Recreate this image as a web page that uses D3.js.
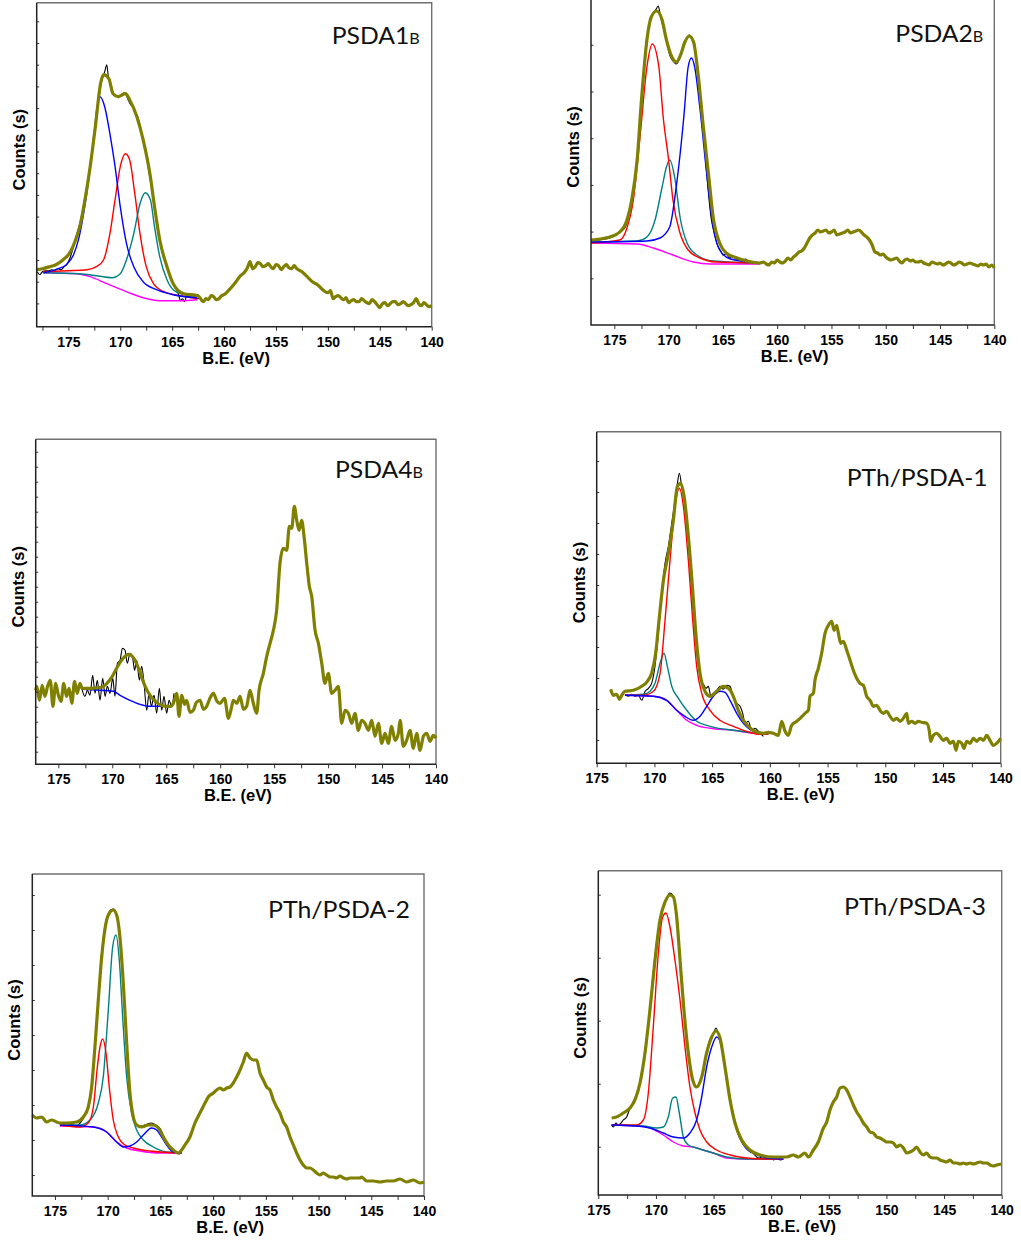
<!DOCTYPE html>
<html><head><meta charset="utf-8">
<script src="https://cdn.jsdelivr.net/npm/d3@7"></script>
<style>body{margin:0;background:#fff}svg{display:block}</style>
</head><body>
<svg id="c" width="1021" height="1245"></svg>
<script>
// ---------- tick values / labels ----------
const xMajorTicks = [175,170,165,160,155,150,145,140];
const xMinorTicks = [177.5,172.5,167.5,162.5,157.5,152.5,147.5,142.5];
const titles = [["PSDA1","B"],["PSDA2","B"],["PSDA4","B"],["PTh/PSDA-1",""],["PTh/PSDA-2",""],["PTh/PSDA-3",""]];
const xTitle = "B.E. (eV)";
const yTitle = "Counts (s)";

// ---------- PSDA1B ----------
const p1Olive = [[178.05,57],[177.5,58],[176.8,60],[176.2,62],[175.5,67],[175.0,72],[174.7,77],[174.3,87],[173.9,100],[173.4,127],[172.9,160],[172.4,200],[171.9,243],[171.6,252],[171.1,248],[170.7,233],[170.2,230],[169.5,233],[169.1,227],[168.4,210],[167.8,187],[167.1,150],[166.7,120],[166.2,87],[165.5,60],[164.9,43],[163.9,33],[162.5,31],
[162.0,25],[161.75,28],[161.5,27],[161.25,31],[161.0,30],[160.75,27],[160.5,28],[160.25,31],[160.0,32],[159.5,37],[159.0,43],[158.5,50],[158.0,55],[157.75,59],[157.5,65],[157.25,58],[157.0,60],[156.75,64],[156.5,63],[156.25,60],[156.0,61],[155.75,63],[155.5,60],[155.25,58],[155.0,62],[154.75,61],[154.5,57],[154.25,60],[154.0,62],[153.75,59],[153.5,58],[153.25,61],[153.0,58],[152.5,55],[152.0,50],[151.5,45],[151.0,42],[150.5,37],[150.0,34],[149.75,36],[149.5,28],[149.25,30],[149.0,31],[148.75,29],[148.5,27],[148.25,29],[148.0,24],[147.75,26],[147.5,27],[147.25,25],[147.0,25],[146.75,28],[146.5,26],[146.25,24],[146.0,23],[145.75,27],[145.5,25],[145.25,22],[145.0,19],[144.75,23],[144.5,24],[144.25,21],[144.0,23],[143.75,25],[143.5,25],[143.25,22],[143.0,23],[142.75,25],[142.5,23],[142.25,21],[142.0,22],[141.75,24],[141.5,28],[141.25,23],[141.0,21],[140.75,24],[140.5,22],[140.25,20],[140.0,21]];
const p1Black = [[178.0,55],[177.75,52],[177.5,55],[177.2,56],[176.9,56],[176.6,57],[176.3,56],[176.0,58],[175.7,57],[175.4,60],[175.1,63],[174.8,70],[174.5,80],[174.2,92],[173.9,103],[173.6,118],[173.3,135],[173.0,155],[172.7,175],[172.4,200],[172.1,225],[171.8,245],[171.5,255],[171.3,262],[171.15,250],[171.0,246],[170.8,238],[170.6,232],[170.4,231],[170.2,229],[170.0,231],[169.8,233],[169.6,234],[169.4,231],[169.2,226],[169.0,222],[168.8,220],[168.6,214],[168.4,212],[168.2,206],[168.0,196],[167.8,186],[167.6,176],[167.4,165],[167.2,152],[167.0,140],[166.8,126],[166.6,112],[166.4,97],[166.2,86],[166.0,76],[165.8,68],[165.6,62],[165.4,56],[165.2,50],[165.0,45],[164.8,42],[164.6,38],[164.4,33],[164.2,26],[164.0,28],[163.8,25],[163.6,31],[163.4,30],[163.2,29],[163.0,31],[162.8,30],[162.6,28],[162.4,29]];
const p1Blue = [[177.4,54],[176.5,56],[176.0,58],[175.2,62],[174.5,72],[174.0,88],[173.5,115],[173.0,150],[172.5,195],[172.2,222],[171.95,230],[171.5,220],[171.0,193],[170.5,160],[170.0,120],[169.4,83],[168.7,60],[167.8,45],[166.5,37],[164.9,32],[162.6,29]];
const p1Red = [[177.4,55],[175.0,56],[173.2,57],[172.3,60],[171.6,67],[171.0,93],[170.5,127],[170.0,160],[169.5,173],[169.1,167],[168.6,133],[168.1,93],[167.5,60],[166.8,43],[165.8,35],[164.2,31],[162.6,28]];
const p1Teal = [[177.4,54],[173.9,53],[172.3,51],[170.8,49],[170.0,53],[169.4,67],[168.7,93],[168.1,123],[167.6,134],[167.1,127],[166.7,100],[166.2,70],[165.5,47],[164.9,37],[163.9,32],[162.6,29]];
const p1Magenta = [[177.4,54],[174.2,53],[172.9,50],[171.3,43],[169.4,35],[167.8,29],[166.2,26],[164.2,26],[162.6,27]];

// ---------- PSDA2B ----------
const p2Olive = [[177.15,85],[176.3,86],[175.4,88],[174.5,93],[173.9,103],[173.4,125],[172.9,165],[172.5,225],[172.0,285],[171.6,308],[171.1,314],[170.6,305],[170.2,285],[169.7,268],[169.3,263],[168.9,270],[168.5,283],[168.1,289],[167.7,283],[167.3,252],[166.8,198],[166.3,148],[165.9,108],[165.3,82],[164.7,72],[163.7,67],[162.8,64],[161.6,62],
[161.25,63],[161.0,61],[160.75,60],[160.5,63],[160.25,62],[160.0,65],[159.75,63],[159.5,62],[159.25,64],[159.0,67],[158.75,65],[158.5,68],[158.25,70],[158.0,73],[157.75,74],[157.5,77],[157.25,82],[157.0,87],[156.75,90],[156.5,92],[156.25,95],[156.0,93],[155.75,94],[155.5,95],[155.25,92],[155.0,93],[154.75,95],[154.5,90],[154.25,91],[154.0,92],[153.75,93],[153.5,95],[153.25,92],[153.0,93],[152.75,94],[152.5,95],[152.25,93],[152.0,90],[151.75,88],[151.5,85],[151.25,80],[151.0,73],[150.75,72],[150.5,70],[150.25,71],[150.0,68],[149.75,66],[149.5,65],[149.25,66],[149.0,67],[148.75,64],[148.5,62],[148.25,65],[148.0,66],[147.75,64],[147.5,65],[147.25,63],[147.0,63],[146.75,64],[146.5,62],[146.25,61],[146.0,60],[145.75,63],[145.5,62],[145.25,61],[145.0,62],[144.75,60],[144.5,61],[144.25,63],[144.0,62],[143.75,60],[143.5,61],[143.25,63],[143.0,62],[142.75,60],[142.5,61],[142.25,62],[142.0,61],[141.75,60],[141.5,59],[141.25,61],[141.0,60],[140.75,61],[140.5,58],[140.25,60],[140.0,57]];
const p2Black = [[177.15,84],[176.5,85],[175.8,86],[175.2,88],[174.6,92],[174.2,95],[173.9,100],[173.6,112],[173.3,128],[173.0,155],[172.7,195],[172.4,240],[172.1,278],[171.8,300],[171.5,310],[171.2,315],[170.95,319],[170.8,312],[170.6,302],[170.4,294],[170.2,284],[169.9,270],[169.6,264],[169.3,261],[169.0,266],[168.7,276],[168.4,285],[168.1,290],[167.9,287],[167.6,276],[167.3,252],[167.0,220],[166.7,180],[166.4,140],[166.1,108],[165.8,92],[165.5,80],[165.2,74],[165.0,70],[164.7,71],[164.4,67],[164.1,69],[163.8,66],[163.5,65],[163.2,64],[162.9,66],[162.6,63],[162.3,62],[162.0,63],[161.7,61]];
const p2Red = [[177.15,82],[174.5,85],[173.9,95],[173.25,125],[172.6,192],[172.0,258],[171.5,281],[170.9,258],[170.5,208],[170.0,165],[169.6,125],[168.95,92],[168.2,75],[167.1,67],[165.6,63],[161.6,62]];
const p2Teal = [[177.15,83],[172.9,84],[172.0,88],[171.25,105],[170.6,138],[170.2,158],[169.9,165],[169.4,145],[168.95,108],[168.3,82],[167.4,70],[165.9,64],[161.6,62]];
const p2Blue = [[177.15,83],[172.0,84],[170.8,87],[169.9,98],[169.3,138],[168.6,208],[168.2,258],[167.9,267],[167.6,258],[167.1,215],[166.5,152],[165.9,98],[165.3,75],[164.3,66],[161.6,62]];
const p2Magenta = [[177.15,82],[172.9,81],[171.4,77],[169.6,70],[167.7,63],[166.2,61],[161.6,61]];

// ---------- PSDA4B ----------
const p3Olive = [[177.1,74],[177.0,78],[176.75,64],[176.5,79],[176.25,68],[176.0,78],[175.75,84],[175.5,58],[175.25,81],[175.0,69],[174.75,63],[174.5,81],[174.25,68],[174.0,76],[173.75,61],[173.5,83],[173.25,71],[173.0,81],
[172.8,76],[172.0,76],[171.0,77],[170.5,81],[170.0,88],[169.5,98],[169.0,106],[168.5,110],[168.0,106],[167.5,94],[167.0,79],[166.5,69],[166.0,63],[165.5,59],[165.0,58],[164.6,58],
[164.34,61],[164.03,71],[163.82,48],[163.57,69],[163.3,60],[163.11,64],[162.8,52],[162.49,54],[162.2,62],[161.87,64],[161.55,55],[161.25,58],[160.95,66],[160.63,71],[160.3,63],[160.02,61],[159.6,66],[159.24,46],[158.95,57],[158.78,64],[158.45,61],[158.16,68],[157.85,55],[157.55,58],[157.24,74],[156.93,61],[156.62,51],[156.40,74],[156.0,91],[155.69,108],[155.38,121],[155.07,134],[154.77,154],[154.46,201],[154.15,216],[153.84,214],[153.59,238],[153.37,236],[153.13,258],[152.91,244],[152.69,234],[152.45,244],[152.23,228],[151.98,201],[151.74,178],[151.52,168],[151.21,134],[150.90,121],[150.59,101],[150.29,81],[149.98,91],[149.67,71],[149.36,74],[149.05,78],[148.74,41],[148.43,54],[148.12,51],[147.81,41],[147.51,51],[147.20,34],[146.89,44],[146.58,41],[146.27,34],[145.96,44],[145.65,28],[145.34,41],[145.03,21],[144.72,31],[144.42,21],[144.11,38],[143.80,24],[143.49,31],[143.33,44],[143.03,18],[142.72,24],[142.41,34],[142.10,16],[141.79,31],[141.48,14],[141.17,28],[140.86,31],[140.55,23],[140.25,29],[140.0,26]];
const p3Black = [[172.84,76],[172.53,68],[172.31,74],[172.07,69],[171.82,89],[171.60,71],[171.39,84],[171.14,64],[170.89,86],[170.67,68],[170.46,78],[170.21,71],[169.96,86],[169.75,68],[169.53,101],[169.28,104],[169.07,116],[168.82,114],[168.61,101],[168.36,111],[168.14,108],[167.93,94],[167.74,104],[167.49,84],[167.28,98],[167.06,81],[166.81,54],[166.60,71],[166.38,58],[166.13,69],[165.89,51],[165.64,76],[165.42,54],[165.21,68],[164.96,51],[164.74,64],[164.50,58],[164.28,71]];
const p3Blue = [[172.84,75],[171.14,74],[169.9,73],[169.28,69],[168.36,64],[167.43,60],[166.5,58],[164.65,58]];

// ---------- PTh/PSDA-1 ----------
const p4Olive = [[173.79,74],[173.56,68],[173.27,69],[173.04,64],[172.83,68],[172.55,72],[171.82,73],[171.10,77],[170.61,82],[170.24,90],[169.89,110],[169.60,143],[169.22,183],[168.79,210],[168.36,243],[168.01,277],[167.72,280],[167.43,267],[167.06,227],[166.71,177],[166.39,127],[166.05,90],[165.62,72],[165.18,67],[164.60,72],[164.03,77],[163.59,75],[163.16,67],[162.73,53],[162.29,43],[161.86,37],[161.28,32],[160.56,30],[160.13,31],
[159.70,30],[159.26,28],[158.97,42],[158.68,32],[158.40,28],[158.11,38],[157.67,42],[157.38,45],[156.95,50],[156.66,53],[156.52,67],[156.23,70],[156.09,83],[155.80,95],[155.51,110],[155.22,130],[154.93,138],[154.64,142],[154.44,133],[154.21,138],[154.06,130],[153.86,120],[153.63,122],[153.34,113],[153.05,103],[152.77,93],[152.48,85],[152.19,80],[151.90,78],[151.61,67],[151.32,63],[151.03,57],[150.74,58],[150.46,53],[150.17,50],[149.88,52],[149.59,47],[149.30,43],[149.01,45],[148.72,42],[148.43,45],[148.14,50],[148.00,40],[147.71,42],[147.42,40],[147.13,42],[146.85,41],[146.41,40],[146.18,32],[146.07,22],[145.83,28],[145.55,30],[145.26,27],[144.97,23],[144.68,25],[144.39,20],[144.10,22],[143.87,13],[143.67,22],[143.38,20],[143.18,15],[142.95,22],[142.66,20],[142.37,25],[142.08,22],[141.79,25],[141.50,23],[141.21,28],[140.93,23],[140.64,18],[140.35,20],[140.00,25]];
const p4Black = [[172.55,69],[172.26,67],[171.97,69],[171.68,67],[171.39,68],[171.10,63],[170.81,72],[170.52,75],[170.24,80],[169.95,97],[169.66,130],[169.37,170],[169.08,200],[168.79,217],[168.50,240],[168.21,263],[168.01,280],[167.84,290],[167.64,277],[167.35,257],[167.06,223],[166.77,173],[166.48,130],[166.19,97],[165.90,82],[165.70,78],[165.53,75],[165.33,77],[165.12,68],[164.89,70],[164.60,73],[164.32,77],[164.03,74],[163.74,78],[163.45,77],[163.16,65],[162.87,60],[162.58,57],[162.35,50],[162.15,40],[161.86,42],[161.57,33],[161.28,35],[160.85,30],[160.56,27]];
const p4Red = [[172.55,68],[170.96,68],[170.09,72],[169.51,90],[169.08,143],[168.65,203],[168.21,257],[167.84,275],[167.49,257],[167.06,203],[166.68,143],[166.34,97],[165.90,70],[165.18,53],[164.32,43],[163.16,37],[162.01,32],[160.85,29],[160.13,29]];
const p4Teal = [[172.55,68],[170.96,69],[170.38,72],[169.95,80],[169.51,100],[169.17,110],[168.88,97],[168.50,77],[167.92,65],[167.20,53],[166.34,42],[165.18,37],[163.16,33],[160.13,29]];
const p4Blue = [[172.55,68],[170.09,67],[168.94,63],[168.07,53],[167.35,47],[166.63,43],[166.05,47],[165.47,57],[164.89,67],[164.32,72],[163.88,71],[163.45,63],[162.87,50],[162.29,40],[161.57,33],[160.13,30]];
const p4Magenta = [[172.55,68],[170.09,67],[168.94,63],[168.07,53],[167.20,43],[166.34,38],[165.18,35],[163.16,33],[161.43,30],[160.13,29]];

// ---------- PTh/PSDA-2 ----------
const p5Olive = [[177.15,81],[176.74,78],[176.26,79],[175.79,74],[175.32,76],[174.84,74],[174.53,73],[173.89,73],[172.94,74],[172.31,79],[171.84,89],[171.52,109],[171.21,149],[170.89,196],[170.57,239],[170.16,273],[169.78,284],[169.47,286],[169.15,281],[168.84,259],[168.52,213],[168.20,153],[167.89,103],[167.57,79],[167.25,71],[166.78,69],[166.15,71],[165.67,71],[165.20,68],[164.73,59],[164.25,51],[163.78,46],[163.30,43],[162.99,46],[162.67,51],[162.20,59],[161.72,73],[161.25,83],[160.77,93],[160.46,99],[159.98,103],[159.67,106],[159.35,108],[159.03,106],[158.72,108],[158.40,109],[158.09,113],[157.77,119],[157.45,126],[157.14,134],[156.82,143],[156.50,138],[156.19,136],[155.87,136],[155.56,123],[155.24,116],[154.92,109],[154.61,106],[154.29,96],[153.98,89],[153.66,83],[153.34,74],[153.03,69],[152.71,59],[152.39,51],[152.08,43],[151.76,36],[151.45,31],[151.13,28],[150.81,28],[150.50,26],[150.18,23],[149.87,21],[149.55,23],[149.23,21],[148.92,19],[148.60,19],[148.29,18],[147.97,20],[147.65,18],[147.34,17],[147.02,18],[146.70,18],[146.07,18],[145.91,19],[145.44,15],[144.81,15],[144.17,14],[143.54,15],[142.91,15],[142.28,17],[141.65,14],[141.01,16],[140.38,13],[140.00,14]];
const p5Black = [[174.53,71],[174.2,72],[173.9,70],[173.6,72],[173.3,71],[173.0,70],[172.7,72],[172.4,76],[172.1,82],[171.8,90],[171.5,110],[171.2,150],[170.9,196],[170.6,238],[170.3,268],[170.0,280],[169.7,286],[169.45,287],[169.2,283],[168.9,264],[168.6,225],[168.3,170],[168.0,118],[167.7,87],[167.4,74],[167.1,70],[166.8,70],[166.5,71],[166.2,72],[165.9,73],[165.6,72],[165.3,70],[165.0,67],[164.7,60],[164.4,54],[164.1,49],[163.8,46],[163.5,43],[163.2,42],[163.0,44]];
const p5Red = [[174.53,71],[172.63,69],[171.84,73],[171.36,89],[170.98,129],[170.73,149],[170.48,157],[170.16,143],[169.85,109],[169.47,76],[168.99,59],[168.36,51],[167.57,48],[165.99,45],[162.99,43]];
const p5Teal = [[174.53,71],[172.63,71],[171.68,76],[170.89,93],[170.42,119],[169.94,186],[169.53,249],[169.21,261],[168.90,236],[168.58,179],[168.20,119],[167.73,83],[167.25,66],[166.62,56],[165.67,49],[164.41,44],[162.99,43]];
const p5Blue = [[174.53,71],[171.36,69],[170.10,64],[169.15,54],[168.52,49],[167.89,50],[167.25,54],[166.62,61],[165.83,68],[165.36,66],[164.88,59],[164.41,51],[163.78,44],[162.99,43]];
const p5Magenta = [[174.53,70],[171.36,69],[170.10,64],[169.15,54],[168.20,48],[166.94,45],[165.04,43],[162.99,43]];

// ---------- PTh/PSDA-3 ----------
const p6Olive = [[173.84,77],[173.41,78],[172.83,82],[172.25,87],[171.82,95],[171.38,112],[170.95,142],[170.52,185],[170.08,235],[169.65,275],[169.21,293],[168.78,300],[168.49,298],[168.20,278],[167.91,235],[167.57,185],[167.19,142],[166.81,115],[166.47,108],[166.03,118],[165.60,142],[165.16,158],[164.79,164],[164.44,157],[164.01,128],[163.57,95],[163.14,72],[162.56,55],[161.84,45],[160.97,40],[159.81,38],[158.95,38],
[158.66,38],[158.08,40],[157.64,38],[157.07,42],[156.78,38],[156.34,45],[155.91,53],[155.47,67],[155.18,73],[154.90,85],[154.61,93],[154.32,98],[154.03,107],[153.74,108],[153.45,105],[153.16,98],[152.87,90],[152.58,83],[152.29,78],[152.00,72],[151.71,68],[151.42,63],[151.14,62],[150.85,58],[150.56,57],[150.27,55],[149.98,53],[149.69,53],[149.40,52],[149.11,48],[148.82,50],[148.53,47],[148.24,42],[147.95,43],[147.66,45],[147.38,48],[147.09,43],[146.80,40],[146.51,42],[146.22,38],[145.93,37],[145.64,37],[145.35,35],[145.06,34],[144.77,33],[144.48,35],[144.19,32],[143.90,32],[143.61,31],[143.32,32],[143.04,31],[142.75,32],[142.46,31],[142.17,32],[141.88,33],[141.59,32],[141.30,32],[141.01,30],[140.72,29],[140.43,30],[140.00,31]];
const p6Black = [[173.84,70],[173.7,68],[173.47,72],[173.26,70],[173.03,72],[172.83,75],[172.54,78],[172.31,85],[172.11,90],[171.82,97],[171.5,108],[171.2,125],[170.9,148],[170.6,178],[170.3,215],[170.0,248],[169.7,272],[169.4,288],[169.1,296],[168.8,302],[168.5,299],[168.2,281],[167.9,237],[167.6,188],[167.3,150],[167.0,125],[166.7,111],[166.45,108],[166.2,113],[165.9,125],[165.6,143],[165.3,156],[165.0,162],[164.8,167],[164.5,158],[164.2,140],[163.9,116],[163.6,96],[163.3,79],[163.0,65],[162.7,56],[162.4,50],[162.1,46],[161.8,43],[161.5,41],[161.26,38],[161.0,37],[160.7,39],[160.4,36],[160.1,38],[159.8,35],[159.5,37],[159.2,35],[158.95,36]];
const p6Red = [[173.84,70],[171.67,70],[171.09,75],[170.66,102],[170.23,168],[169.79,242],[169.42,278],[169.13,282],[168.78,268],[168.35,235],[167.91,195],[167.48,148],[167.05,108],[166.61,82],[166.18,65],[165.60,53],[164.73,45],[163.57,40],[162.13,37],[160.39,36],[158.95,36]];
const p6Teal = [[173.84,70],[171.09,69],[169.94,67],[169.36,68],[168.93,78],[168.55,97],[168.26,98],[167.97,82],[167.62,58],[167.19,50],[166.47,47],[165.31,43],[163.86,38],[162.13,36],[158.95,36]];
const p6Blue = [[173.84,70],[171.67,69],[170.52,67],[169.36,62],[168.49,58],[167.62,57],[167.05,62],[166.47,75],[166.03,98],[165.60,128],[165.16,148],[164.73,158],[164.30,148],[163.86,118],[163.43,88],[162.85,62],[162.27,48],[161.55,42],[160.39,37],[158.95,36]];
const p6Magenta = [[173.84,70],[171.67,69],[170.52,67],[169.36,60],[168.49,53],[167.62,49],[166.76,48],[165.89,45],[165.02,42],[163.86,37],[162.13,36],[158.95,36]];

// ---------- layout (pixels) ----------
const layout = [
  {l:36.7, r:431.7, t:2.7,  b:326.7, x0:178.05, yt0:23.3, yts:21.7, tEnd:12, tDy:41.3, tW:88},
  {l:591,  r:994.3, t:-1,   b:325,   x0:177.15, yt0:46.7, yts:46.7, tEnd:11, tDy:42.7, tW:88},
  {l:35.7, r:436,   t:439.3,b:764.3, x0:177.1,  yt0:12.6, yts:15,   tEnd:13, tDy:39,   tW:88},
  {l:596.7,r:1000.7,t:431.7,b:763.3, x0:175,    yt0:23.3, yts:31,   tEnd:13, tDy:54,   tW:141},
  {l:32.3, r:424,   t:874,  b:1196,  x0:177.15, yt0:21,   yts:35,   tEnd:14, tDy:44.3, tW:142},
  {l:598.3,r:1001.7,t:870.7,b:1195,  x0:175,    yt0:48.3, yts:63,   tEnd:15.7,tDy:44.3,tW:142}
];
const series = [
  {olive:p1Olive, black:p1Black, comps:[[p1Magenta,"#ff00ff"],[p1Teal,"#008080"],[p1Red,"#ff0000"],[p1Blue,"#0000ff"]]},
  {olive:p2Olive, black:p2Black, comps:[[p2Magenta,"#ff00ff"],[p2Teal,"#008080"],[p2Red,"#ff0000"],[p2Blue,"#0000ff"]]},
  {olive:p3Olive, black:p3Black, comps:[[p3Blue,"#0000ff"]]},
  {olive:p4Olive, black:p4Black, comps:[[p4Magenta,"#ff00ff"],[p4Teal,"#008080"],[p4Red,"#ff0000"],[p4Blue,"#0000ff"]]},
  {olive:p5Olive, black:p5Black, comps:[[p5Magenta,"#ff00ff"],[p5Teal,"#008080"],[p5Red,"#ff0000"],[p5Blue,"#0000ff"]]},
  {olive:p6Olive, black:p6Black, comps:[[p6Magenta,"#ff00ff"],[p6Teal,"#008080"],[p6Red,"#ff0000"],[p6Blue,"#0000ff"]]}
];

const svg = d3.select("#c");
layout.forEach((p, i) => {
  const H = p.b - p.t;
  const x = d3.scaleLinear().domain([p.x0, 140]).range([p.l, p.r]);
  const y = d3.scaleLinear().domain([0, H]).range([p.b, p.t]);
  const g = svg.append("g");
  const line = d3.line().x(d => x(d[0])).y(d => y(d[1])).curve(d3.curveMonotoneX);
  const s = series[i];

  // frame (top/right gray)
  g.append("path").attr("d", `M${p.l},${p.t}H${p.r}V${p.b}`)
    .attr("fill","none").attr("stroke","#707070").attr("stroke-width",1.4);

  // data
  g.append("path").datum(s.black).attr("d", line).attr("fill","none").attr("stroke","#000").attr("stroke-width",1.1);
  s.comps.forEach(c => {
    g.append("path").datum(c[0]).attr("d", line).attr("fill","none").attr("stroke",c[1]).attr("stroke-width",1.4);
  });
  g.append("path").datum(s.olive).attr("d", line).attr("fill","none").attr("stroke","#808000").attr("stroke-width",3.2).attr("stroke-linejoin","round");

  // x axis
  const ax = g.append("g").attr("transform",`translate(0,${p.b})`)
    .call(d3.axisBottom(x).tickValues(xMajorTicks).tickSize(4).tickSizeOuter(0).tickPadding(6).tickFormat(d3.format("d")));
  ax.select(".domain").remove();
  ax.selectAll("text").style("font-family","'Liberation Sans',Arial,sans-serif").style("font-weight","bold").style("font-size","14px").attr("fill","#000");
  ax.selectAll("line").attr("stroke","#333");
  const axm = g.append("g").attr("transform",`translate(0,${p.b})`)
    .call(d3.axisBottom(x).tickValues(xMinorTicks.filter(v => v <= p.x0)).tickSize(4).tickSizeOuter(0).tickFormat(""));
  axm.select(".domain").remove();
  axm.selectAll("line").attr("stroke","#333");

  // y ticks (inward, no labels)
  const yt = d3.range(p.yt0, H, p.yts);
  const ay = g.append("g").attr("transform",`translate(${p.l},0)`)
    .call(d3.axisLeft(y).tickValues(yt).tickSize(-2.5).tickSizeOuter(0).tickFormat(""));
  ay.select(".domain").remove();
  ay.selectAll("line").attr("stroke","#333");

  // axis lines
  g.append("path").attr("d", `M${p.l},${p.t}V${p.b}H${p.r}`)
    .attr("fill","none").attr("stroke","#222").attr("stroke-width",1.5);

  // axis titles
  g.append("text").attr("x",(p.l+p.r)/2 + 2).attr("y",p.b+37).attr("text-anchor","middle")
    .style("font-family","'Liberation Sans',Arial,sans-serif").style("font-weight","bold").style("font-size","16.5px").text(xTitle);
  g.append("text").attr("transform",`translate(${p.l-12},${(p.t+p.b)/2-15}) rotate(-90)`).attr("text-anchor","middle")
    .style("font-family","'Liberation Sans',Arial,sans-serif").style("font-weight","bold").style("font-size","16.5px").text(yTitle);

  // panel title
  const tt = g.append("text").attr("x", p.r - p.tEnd).attr("y", p.t + p.tDy).attr("text-anchor","end")
    .style("font-family","Lato,'Open Sans',sans-serif").style("font-size","23px").attr("fill","#111");
  tt.append("tspan").text(titles[i][0]);
  if (titles[i][1]) tt.append("tspan").style("font-size","15px").text(titles[i][1]);
  tt.attr("textLength", p.tW).attr("lengthAdjust","spacingAndGlyphs");
});
</script>
</body></html>
